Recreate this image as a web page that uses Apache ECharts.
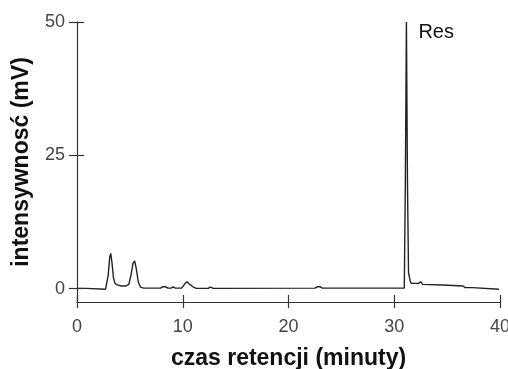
<!DOCTYPE html>
<html>
<head>
<meta charset="utf-8">
<script src="https://cdn.jsdelivr.net/npm/echarts@6/dist/echarts.min.js"></script>
<style>
html,body{margin:0;padding:0;background:#fff;}
#chart{width:508px;height:369px;}
</style>
</head>
<body>
<div id="chart"></div>
<script>
// retention time (min)
var times = [0, 0.9, 1.0, 2.7, 2.8, 2.95, 3.1, 3.19, 3.3, 3.45, 3.6, 3.8, 4.2, 4.6, 4.9, 5.1, 5.3, 5.45, 5.6, 5.8, 6.0, 6.3,
  7.9, 8.1, 8.4, 8.6, 8.9, 9.1, 9.3, 9.9, 10.2, 10.4, 10.6, 11.0, 11.3, 12.4, 12.6, 12.9,
  22.5, 22.7, 23.0, 23.2, 30.95, 31.05, 31.15, 31.25, 31.35, 31.5, 31.6, 32.3, 32.5, 32.7,
  34.6, 34.7, 36.5, 36.7, 37.4, 37.5, 39.9];
// intensity (mV)
var intensity = [0.05, 0.05, -0.1, -0.1, 0.2, 2.5, 6.0, 6.6, 5.0, 2.0, 1.0, 0.7, 0.5, 0.5, 0.8, 2.5, 4.8, 5.2, 3.8, 1.2, 0.3, 0.1,
  0.1, 0.35, 0.35, 0.1, 0.1, 0.35, 0.1, 0.1, 0.9, 1.3, 0.9, 0.3, 0.05, 0.05, 0.3, 0.05,
  0.1, 0.35, 0.35, 0.1, 0.1, 20, 50, 20, 3, 1.5, 1.0, 1.0, 1.3, 0.8,
  0.7, 0.5, 0.5, 0.2, 0.2, -0.1, -0.1];
var xTicks = [0, 10, 20, 30, 40];
var yTicks = [0, 25, 50];
var peakLabel = {name: 'Res', time: 31.15, value: 50};

var FONT = '"Liberation Sans", Arial, sans-serif';
var X_MIN = 0, X_MAX = 40, Y_MIN = -2.5, Y_MAX = 50;
var GRID = {left: 77, right: 8, top: 22, bottom: 67};
var W = 508, H = 369;
var data = times.map(function (t, i) { return [t, intensity[i]]; });

// inner halves of the crossing tick marks, expressed in data units (about 7 px)
var innerTickPx = 7;
var dy = innerTickPx * (Y_MAX - Y_MIN) / (H - GRID.top - GRID.bottom);
var dx = innerTickPx * (X_MAX - X_MIN) / (W - GRID.left - GRID.right);
var tickLines = [];
xTicks.forEach(function (t) { tickLines.push([{coord: [t, Y_MIN]}, {coord: [t, Y_MIN + dy]}]); });
yTicks.forEach(function (v) { tickLines.push([{coord: [X_MIN, v]}, {coord: [X_MIN + dx, v]}]); });

var chart = echarts.init(document.getElementById('chart'), null, {renderer: 'canvas'});
var axisLineStyle = {color: '#333', width: 1.2};
chart.setOption({
  animation: false,
  backgroundColor: '#fff',
  grid: {left: GRID.left, right: GRID.right, top: GRID.top, bottom: GRID.bottom, containLabel: false, outerBoundsMode: 'none'},
  xAxis: {
    type: 'value', min: X_MIN, max: X_MAX, position: 'bottom',
    name: 'czas retencji (minuty)', nameLocation: 'middle', nameGap: 45,
    nameTextStyle: {fontFamily: FONT, fontWeight: 'bold', fontSize: 23, color: '#111'},
    axisLine: {show: true, onZero: false, lineStyle: axisLineStyle},
    axisTick: {show: true, inside: false, length: 6, lineStyle: axisLineStyle, customValues: xTicks},
    axisLabel: {show: true, margin: 16, fontFamily: FONT, fontSize: 18, color: '#444', customValues: xTicks},
    splitLine: {show: false}
  },
  yAxis: {
    type: 'value', min: Y_MIN, max: Y_MAX, position: 'left',
    name: 'intensywnosć (mV)', nameLocation: 'middle', nameGap: 44,
    nameTextStyle: {fontFamily: FONT, fontWeight: 'bold', fontSize: 23, color: '#111'},
    axisLine: {show: true, onZero: false, lineStyle: axisLineStyle},
    axisTick: {show: true, inside: false, length: 8, lineStyle: axisLineStyle, customValues: yTicks},
    axisLabel: {show: true, margin: 12, fontFamily: FONT, fontSize: 18, color: '#444', customValues: yTicks},
    splitLine: {show: false}
  },
  series: [{
    type: 'line',
    data: data,
    showSymbol: false,
    symbol: 'none',
    smooth: false,
    z: 3,
    lineStyle: {color: '#222', width: 1.4},
    markPoint: {
      symbol: 'circle', symbolSize: 0,
      data: [{coord: [peakLabel.time, peakLabel.value], value: peakLabel.name}],
      label: {show: true, position: 'right', distance: 0, offset: [12, 10], formatter: '{c}',
        fontFamily: FONT, fontSize: 20, color: '#111'}
    },
    markLine: {
      silent: true,
      symbol: ['none', 'none'],
      label: {show: false},
      lineStyle: {color: '#333', width: 1.2, type: 'solid', opacity: 1},
      emphasis: {disabled: true},
      data: tickLines
    }
  }]
});
</script>
</body>
</html>
